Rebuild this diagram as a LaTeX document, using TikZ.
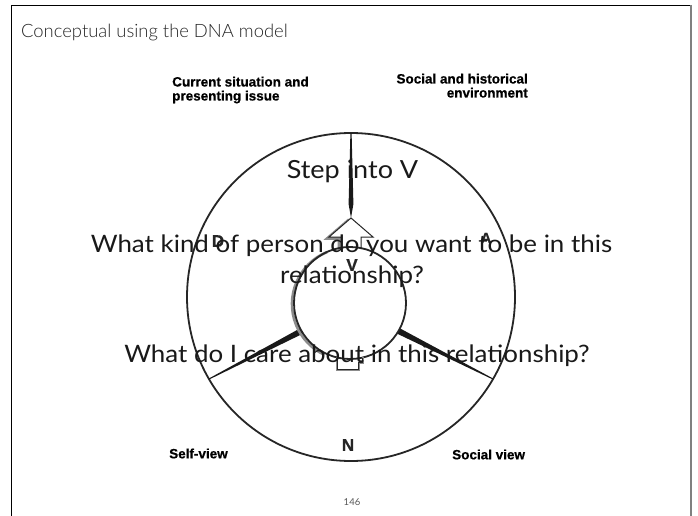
\documentclass[tikz,border=0pt]{standalone}
\usepackage{fontspec}
\setmainfont{Lato}
\newfontfamily\askfont[FakeStretch=1.08]{Lato}
\IfFontExistsTF{Lato Light}{\newfontfamily\titlefont{Lato Light}}{\newfontfamily\titlefont{Lato}}
\newfontfamily\capfont[FakeBold=0.6]{Liberation Sans Bold}
\usetikzlibrary{calc}
\tikzset{
  ring/.style={line width=1.8pt, draw=black!85},
  shade/.style={draw=black!45, line width=2.6pt, line join=miter},
  letter/.style={font=\capfont\fontsize{17}{19}\selectfont, text=black!85, inner sep=0pt},
  caption/.style={font=\capfont\fontsize{13.5}{14}\selectfont, inner sep=0pt},
  ask/.style={font=\askfont\fontsize{24}{31}\selectfont, text=black!90, inner sep=0pt, align=center},
  wedge/.style={fill=black!90}
}
\begin{document}
\begin{tikzpicture}[x=1pt,y=-1pt]
\useasboundingbox (0,0) rectangle (698,516);
\fill[white] (0,0) rectangle (698,516);

% slide frame
\draw[line width=1pt] (11.5,520) -- (11.5,5.5) -- (691,5.5);
\draw[black!50, line width=1.3pt] (691,5) -- (691,520);

% title
\node[anchor=base west, inner sep=0pt, font=\titlefont\fontsize{18.4}{23}\selectfont, text=black!85] (title) at (21,38) {Conceptual using the DNA model};

% centres of the two rings
\coordinate (oc) at (351,297);
\coordinate (ic) at (350,303);

% outer ring
\draw[ring] (oc) circle[radius=164pt];

% ends of the three spokes
\coordinate (ttop) at (351,133);
\coordinate (tip) at (351,218);
\coordinate (lin) at ($(ic)+(-48.5,28)$);
\coordinate (lout) at ($(oc)+(-142,82)$);
\coordinate (rin) at ($(ic)+(48.5,28)$);
\coordinate (rout) at ($(oc)+(142,82)$);

% top spoke, tapering towards the rim
\fill[wedge] ($(ttop)+(-0.6,0)$) -- ($(ttop)+(0.6,0)$) -- ($(tip)+(2.4,-14)$) -- (tip) -- ($(tip)+(-2.4,-14)$) -- cycle;

% lower spokes, thick at the hub and thin at the rim
\fill[wedge] ($(lin)!3pt!90:(lout)$) -- ($(lout)!0.5pt!-90:(lin)$) -- ($(lout)!0.5pt!90:(lin)$) -- ($(lin)!3pt!-90:(lout)$) -- cycle;
\fill[wedge] ($(rin)!3pt!90:(rout)$) -- ($(rout)!0.5pt!-90:(rin)$) -- ($(rout)!0.5pt!90:(rin)$) -- ($(rin)!3pt!-90:(rout)$) -- cycle;

% shadow of the hub, on its left side
\draw[shade] ([shift={(-2,1)}]ic) ++(112:56pt) arc[start angle=112, end angle=245, radius=56pt];

% open arrow on top of the hub
\coordinate (hl) at (329,237);
\coordinate (hr) at (373,237);
\draw[shade] ([shift={(-2,1.5)}]tip) -- ([shift={(-2,1.5)}]hl) -- ([shift={(-2,1.5)}]341,237) -- ([shift={(-2,1.5)}]341,249);
\filldraw[fill=white, draw=black!85, line width=1pt, line join=miter]
  (341,249) -- (341,237) -- (hl) -- (tip) -- (hr) -- (361,237) -- (361,249);

% hub
\draw[ring] (ic) circle[radius=56pt];

% notch under the hub
\draw[shade] (337,357) -- (337,370) -- (359,370) -- (359,363) -- (363,363) -- (363,357);
\draw[black!85, line width=0.8pt] (337.5,357.5) -- (337.5,369.5) -- (358.5,369.5) -- (358.5,362.5) -- (362.5,362.5) -- (362.5,357.5);

% letters of the model
\node[letter] (D) at (218,241) {D};
\node[letter, font=\capfont\fontsize{15}{17}\selectfont] (A) at (486,238) {A};
\node[letter] (V) at (352,265) {V};
\node[letter] (N) at (348,445) {N};

% corner captions
\node[caption, anchor=north west, align=left] (cur) at (172,76.5) {Current situation and\\presenting issue};
\node[caption, anchor=north east, align=right] (soc) at (528,73.5) {Social and historical\\environment};
\node[caption, anchor=west] (self) at (169,453.5) {Self-view};
\node[caption, anchor=west] (sview) at (452,454.5) {Social view};

% questions written across the figure
\node[ask, font=\askfont\fontsize{25}{31}\selectfont, anchor=base] (step) at (352.5,178) {Step into V};
\node[ask, anchor=base] (kind) at (351.5,252) {What kind of person do you want to be in this};
\node[ask, anchor=base] (kind2) at (352,283) {relationship?};
\node[ask, anchor=base] (care) at (357,362) {What do I care about in this relationship?};

% page number
\node[inner sep=0pt, font=\fontsize{9.5}{11}\selectfont, text=black!65] (page) at (352,502) {146};
\end{tikzpicture}
\end{document}
